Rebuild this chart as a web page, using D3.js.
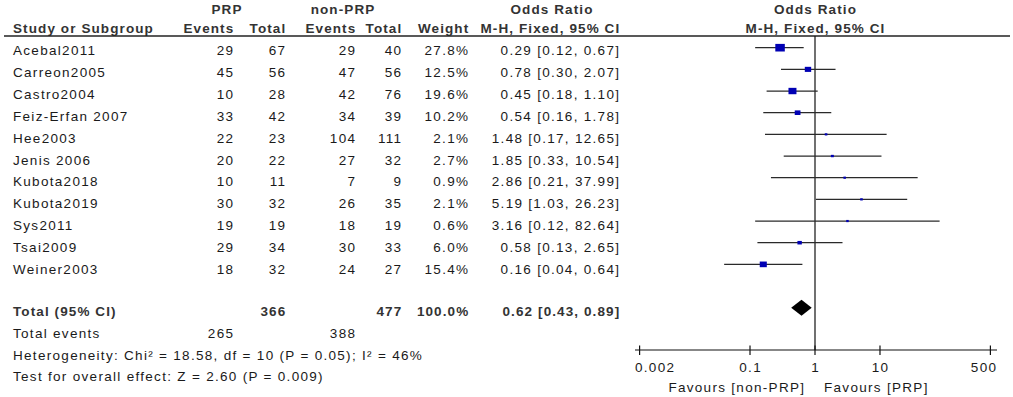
<!DOCTYPE html>
<html lang="en">
<head>
<meta charset="UTF-8">
<title>Forest plot</title>
<style>
  body { margin: 0; background: #fff; }
  svg text { font-family: "Liberation Sans", Arial, sans-serif; font-size: 13.5px; letter-spacing: 1.3px; fill: #1a1a1a; }
  svg text.b { font-weight: bold; fill: #333; letter-spacing: 1.1px; }
</style>
</head>
<body>
<div id="chart"></div>
<script src="https://cdn.jsdelivr.net/npm/d3@7"></script>
<script>
  const studies = ["Acebal2011", "Carreon2005", "Castro2004", "Feiz-Erfan 2007", "Hee2003", "Jenis 2006",
    "Kubota2018", "Kubota2019", "Sys2011", "Tsai2009", "Weiner2003"];
  const prpEvents = [29, 45, 10, 33, 22, 20, 10, 30, 19, 29, 18];
  const prpTotal = [67, 56, 28, 42, 23, 22, 11, 32, 19, 34, 32];
  const nonEvents = [29, 47, 42, 34, 104, 27, 7, 26, 18, 30, 24];
  const nonTotal = [40, 56, 76, 39, 111, 32, 9, 35, 19, 33, 27];
  const weights = [27.8, 12.5, 19.6, 10.2, 2.1, 2.7, 0.9, 2.1, 0.6, 6.0, 15.4];
  const oddsRatio = [0.29, 0.78, 0.45, 0.54, 1.48, 1.85, 2.86, 5.19, 3.16, 0.58, 0.16];
  const ciLow = [0.12, 0.30, 0.18, 0.16, 0.17, 0.33, 0.21, 1.03, 0.12, 0.13, 0.04];
  const ciHigh = [0.67, 2.07, 1.10, 1.78, 12.65, 10.54, 37.99, 26.23, 82.64, 2.65, 0.64];

  const total = {prpTotal: 366, nonTotal: 477, weight: 100.0, or: 0.62, lo: 0.43, hi: 0.89,
    prpEvents: 265, nonEvents: 388};
  const axisTicks = [0.002, 0.1, 1, 10, 500];
  const footerLines = ["Heterogeneity: Chi\u00b2 = 18.58, df = 10 (P = 0.05); I\u00b2 = 46%",
    "Test for overall effect: Z = 2.60 (P = 0.009)"];

  const width = 1013, height = 397;
  const svg = d3.select("#chart").append("svg")
    .attr("width", width)
    .attr("height", height);

  const fmt2 = d3.format(".2f");
  const fmtW = d => d3.format(".1f")(d) + "%";
  const ciText = (o, l, h) => fmt2(o) + " [" + fmt2(l) + ", " + fmt2(h) + "]";

  // row positions
  const yMark = d3.scaleLinear().domain([0, 12]).range([47.7, 307.7]);
  const yText = d3.scaleLinear().domain([0, 10]).range([55, 274]);
  const x = d3.scaleLog().domain([0.002, 500]).range([639.6, 990.4]);

  // right edges of the columns (letter-spacing trails after the last glyph, so nudge)
  const ls = 1.3;
  const cols = {
    study: 13, prpE: 233 + ls, prpT: 285 + ls, nonE: 355 + ls, nonT: 401 + ls, weight: 468 + ls, or: 619 + ls
  };

  // headers
  const hdr = svg.append("g");
  const head = (t, xx, y, anchor) => hdr.append("text").attr("class", "b")
    .attr("x", xx).attr("y", y).attr("text-anchor", anchor).text(t);
  head("PRP", 227, 14, "middle");
  head("non-PRP", 343, 14, "middle");
  head("Odds Ratio", 552, 14, "middle");
  head("Odds Ratio", 815.5, 14, "middle");
  head("Study or Subgroup", cols.study, 33, "start");
  head("Events", cols.prpE, 33, "end");
  head("Total", cols.prpT, 33, "end");
  head("Events", cols.nonE, 33, "end");
  head("Total", cols.nonT, 33, "end");
  head("Weight", cols.weight, 33, "end");
  head("M-H, Fixed, 95% CI", cols.or, 33, "end");
  head("M-H, Fixed, 95% CI", 815.5, 33, "middle");

  svg.append("line")
    .attr("x1", 4).attr("x2", 1010).attr("y1", 36).attr("y2", 36)
    .attr("stroke", "#222").attr("stroke-width", 1.5);

  // study rows
  const rows = svg.append("g").selectAll("g").data(studies).join("g");
  const cell = (key, val, anchor) => rows.append("text")
    .attr("x", cols[key]).attr("y", (d, i) => yText(i))
    .attr("text-anchor", anchor).text(val);
  cell("study", d => d, "start");
  cell("prpE", (d, i) => prpEvents[i], "end");
  cell("prpT", (d, i) => prpTotal[i], "end");
  cell("nonE", (d, i) => nonEvents[i], "end");
  cell("nonT", (d, i) => nonTotal[i], "end");
  cell("weight", (d, i) => fmtW(weights[i]), "end");
  cell("or", (d, i) => ciText(oddsRatio[i], ciLow[i], ciHigh[i]), "end");

  // total rows
  const totY = 316, stepF = 22;
  const tot = svg.append("g");
  const tcell = (t, xx, y, anchor, bold) => tot.append("text")
    .attr("class", bold ? "b" : null)
    .attr("x", xx).attr("y", y).attr("text-anchor", anchor).text(t);
  tcell("Total (95% CI)", cols.study, totY, "start", true);
  tcell(total.prpTotal, cols.prpT, totY, "end", true);
  tcell(total.nonTotal, cols.nonT, totY, "end", true);
  tcell(fmtW(total.weight), cols.weight, totY, "end", true);
  tcell(ciText(total.or, total.lo, total.hi), cols.or, totY, "end", true);
  tcell("Total events", cols.study, totY + stepF, "start");
  tcell(total.prpEvents, cols.prpE, totY + stepF, "end");
  tcell(total.nonEvents, cols.nonE, totY + stepF, "end");
  footerLines.forEach((t, k) => tcell(t, cols.study, totY + stepF * (k + 2) - (k ? 1 : 0), "start"));

  // forest plot
  const axisY = 350;
  svg.append("line")
    .attr("x1", x(1)).attr("x2", x(1)).attr("y1", 36).attr("y2", axisY)
    .attr("stroke", "#111").attr("stroke-width", 1.2);

  const side = d3.scaleSqrt().domain([0, d3.max(weights)]).range([0, 9.5]);
  const marks = svg.append("g").selectAll("g").data(studies).join("g");
  marks.append("line")
    .attr("x1", (d, i) => x(ciLow[i])).attr("x2", (d, i) => x(ciHigh[i]))
    .attr("y1", (d, i) => yMark(i)).attr("y2", (d, i) => yMark(i))
    .attr("stroke", "#2a2a2a").attr("stroke-width", 1.3);
  marks.append("rect")
    .attr("x", (d, i) => x(oddsRatio[i]) - Math.max(2.5, side(weights[i])) / 2)
    .attr("y", (d, i) => yMark(i) - Math.max(2.2, side(weights[i]) * 0.8) / 2)
    .attr("width", (d, i) => Math.max(2.5, side(weights[i])))
    .attr("height", (d, i) => Math.max(2.2, side(weights[i]) * 0.8))
    .attr("fill", "#0000b4");

  const dy = yMark(12);
  svg.append("path")
    .attr("d", `M${x(total.lo)},${dy} L${x(total.or)},${dy - 8} L${x(total.hi)},${dy} L${x(total.or)},${dy + 8} Z`)
    .attr("fill", "#000");

  // axis
  const ax = svg.append("g").attr("transform", `translate(0,${axisY})`);
  ax.append("line").attr("x1", 635).attr("x2", 997).attr("y1", 0).attr("y2", 0)
    .attr("stroke", "#111").attr("stroke-width", 1.2);
  ax.selectAll("line.tick").data(axisTicks).join("line").attr("class", "tick")
    .attr("x1", d => x(d)).attr("x2", d => x(d)).attr("y1", -4.5).attr("y2", 5)
    .attr("stroke", "#111").attr("stroke-width", 1.2);
  const last = axisTicks.length - 1;
  ax.selectAll("text").data(axisTicks).join("text")
    .attr("x", (d, i) => i === 0 ? 635 : i === last ? 996 + ls : x(d) + ls / 2)
    .attr("y", 22)
    .attr("text-anchor", (d, i) => i === 0 ? "start" : i === last ? "end" : "middle")
    .text(d => String(d));

  svg.append("text").attr("x", 804 + ls).attr("y", 392).attr("text-anchor", "end")
    .text("Favours [non-PRP]");
  svg.append("text").attr("x", 824).attr("y", 392).attr("text-anchor", "start")
    .text("Favours [PRP]");
</script>
</body>
</html>
